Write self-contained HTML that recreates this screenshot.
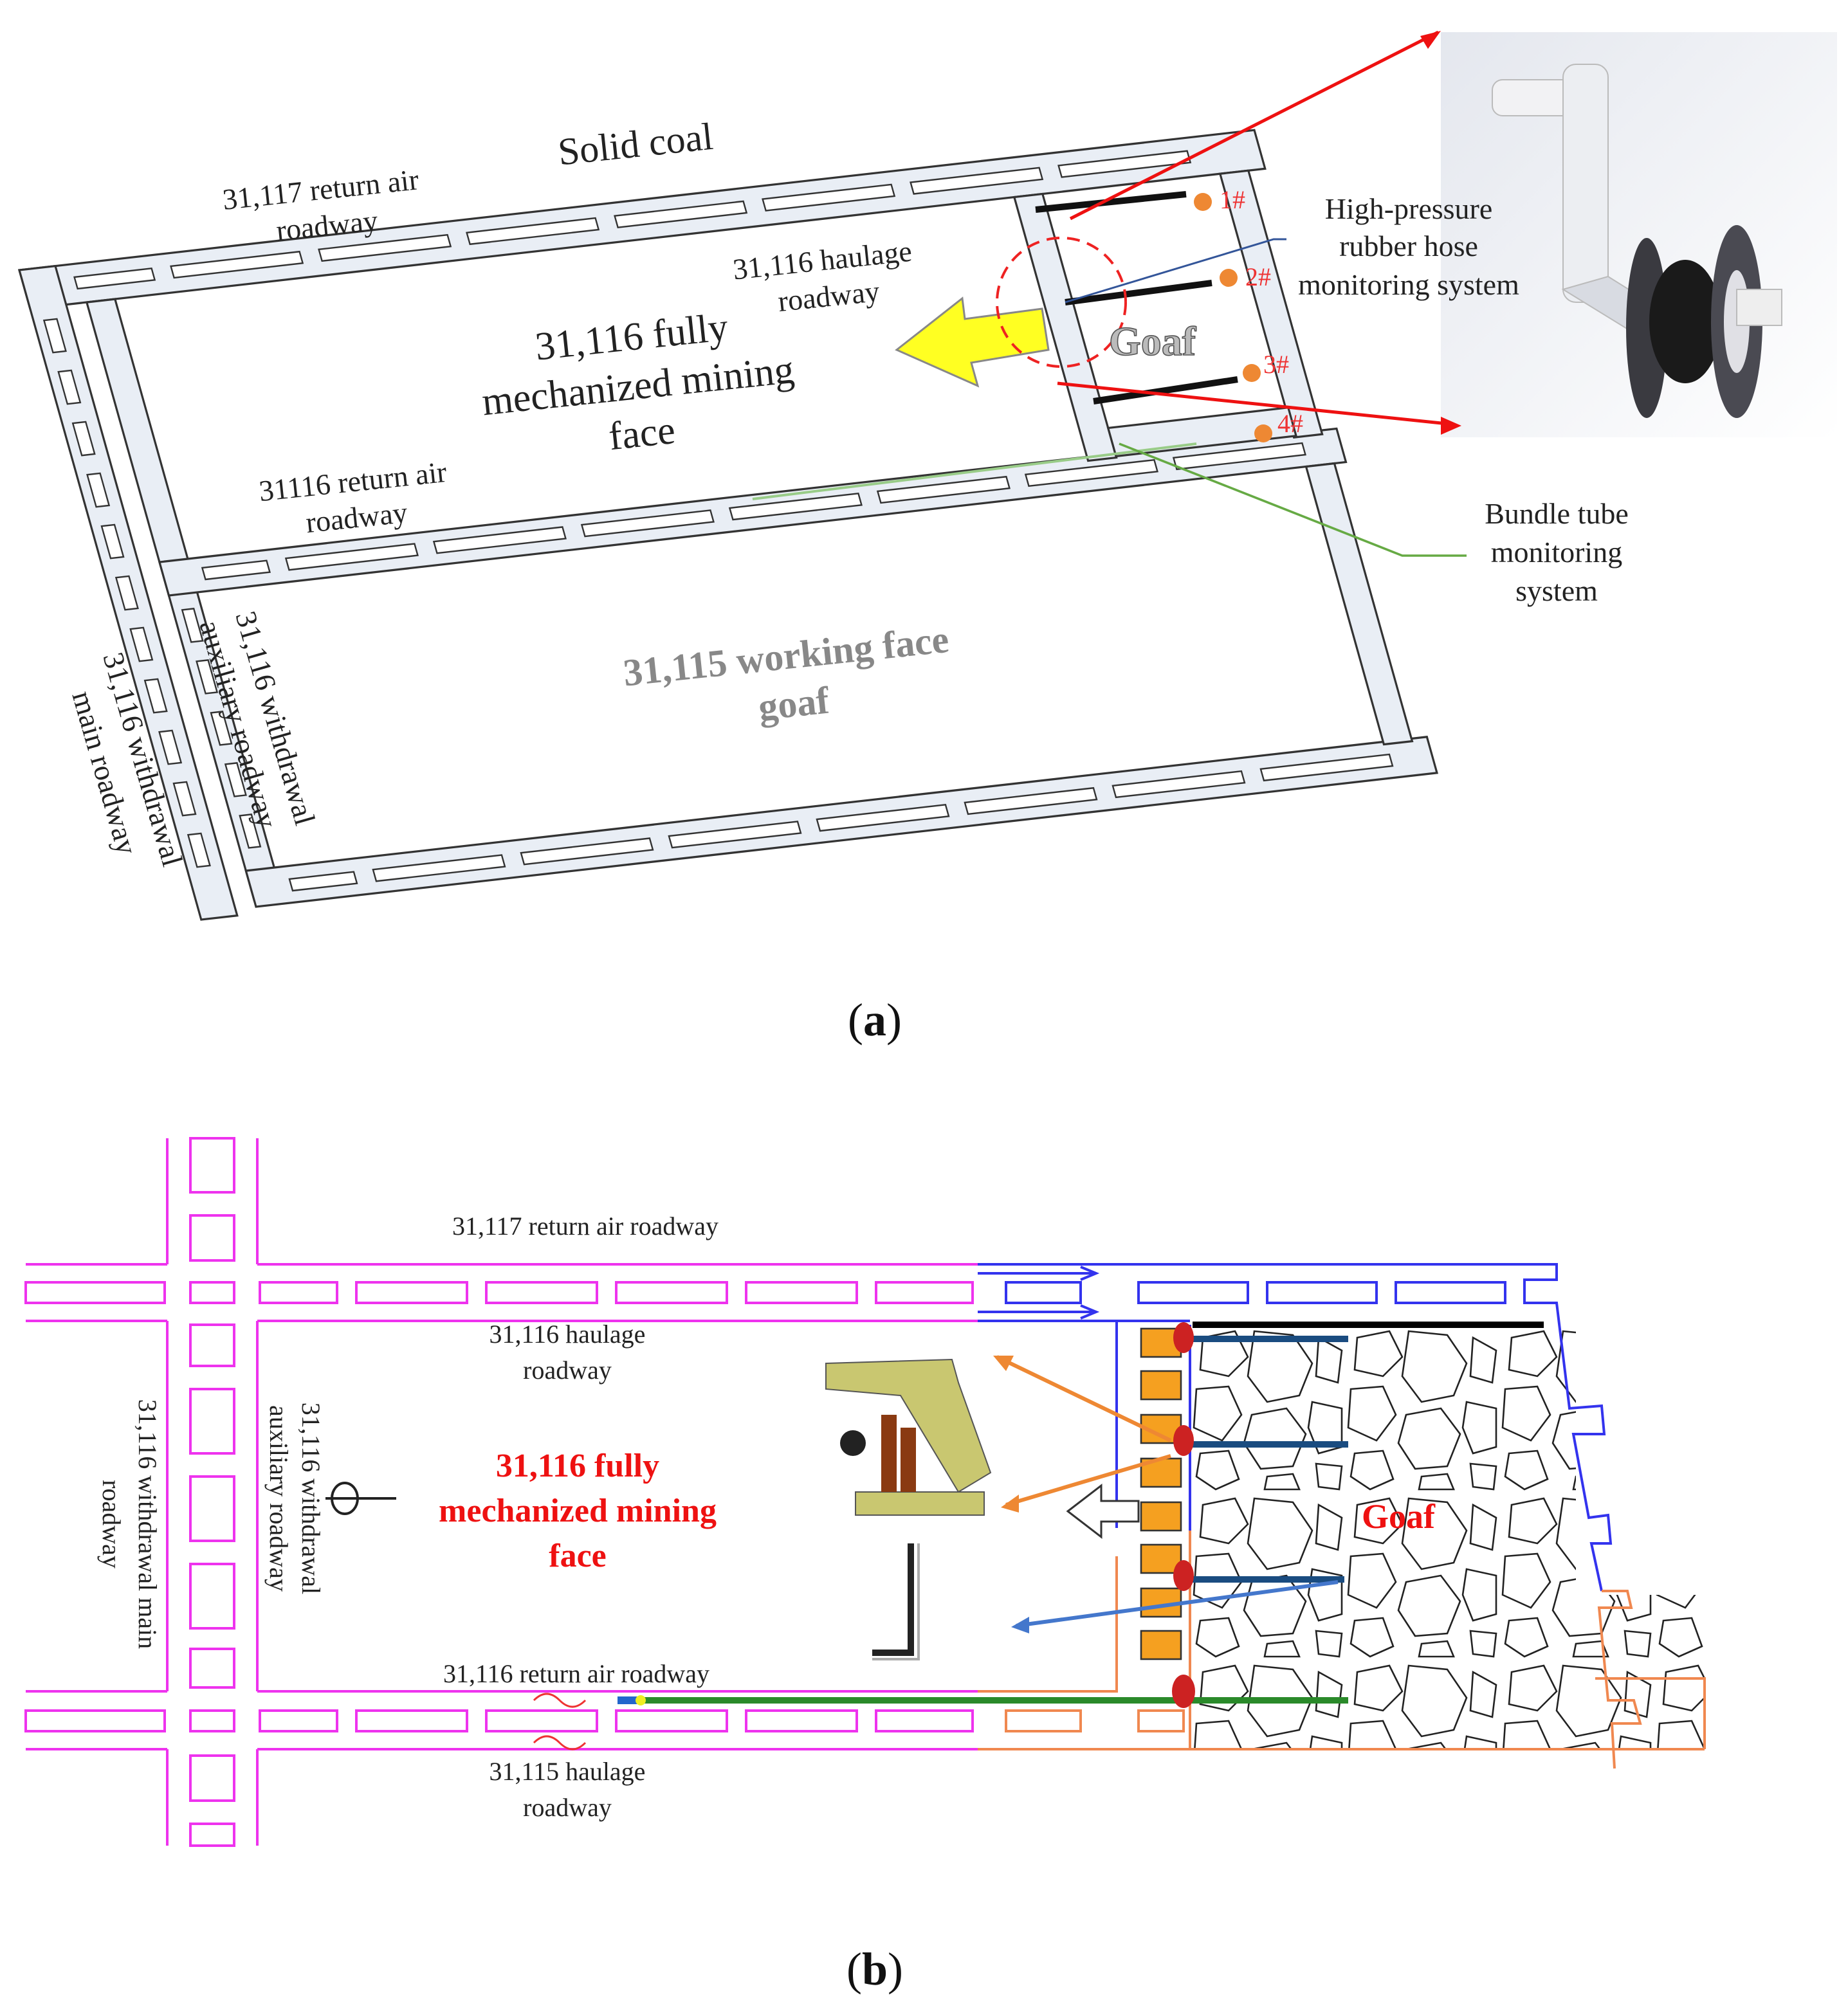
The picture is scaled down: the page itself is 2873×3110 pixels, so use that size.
<!DOCTYPE html>
<html><head><meta charset="utf-8"><style>
html,body{margin:0;padding:0;background:#fff}
svg{display:block}
text{font-family:"Liberation Serif",serif}
</style></head><body>
<svg width="2873" height="3110" viewBox="0 0 1436.5 1555" xmlns="http://www.w3.org/2000/svg">
<defs>
<linearGradient id="bg" x1="0" y1="0" x2="1" y2="1"><stop offset="0" stop-color="#e4e7ee"/><stop offset="1" stop-color="#ffffff"/></linearGradient>
<pattern id="rock" width="120" height="130" patternUnits="userSpaceOnUse" x="925" y="1030">
<g fill="none" stroke="#222" stroke-width="1.3">
<polygon points="10,10 35,5 45,25 30,40 8,35"/>
<polygon points="50,5 80,8 95,30 85,55 60,60 45,40"/>
<polygon points="100,10 118,20 115,45 98,40"/>
<polygon points="5,50 30,48 40,70 25,90 3,80"/>
<polygon points="48,70 75,65 90,85 80,110 55,112 42,92"/>
<polygon points="95,60 118,65 118,95 100,100 92,80"/>
<polygon points="8,100 30,98 38,120 20,128 5,118"/>
<polygon points="60,118 80,116 85,128 58,128"/>
<polygon points="98,108 118,110 116,128 100,126"/>
</g></pattern>
</defs>

<!-- ===== (a) ===== -->
<rect x="1120" y="25" width="308" height="315" fill="url(#bg)"/>
<rect x="1160" y="62" width="90" height="28" rx="8" fill="#f2f2f4" stroke="#bbb"/>
<rect x="1215" y="50" width="35" height="185" rx="10" fill="#eceef2" stroke="#bbb"/>
<path d="M1215 225 L1280 265 L1290 240 L1250 215 Z" fill="#d8dbe2" stroke="#bbb"/>
<ellipse cx="1280" cy="255" rx="16" ry="70" fill="#3a3a40"/>
<ellipse cx="1310" cy="250" rx="28" ry="48" fill="#1a1a1a"/>
<ellipse cx="1350" cy="250" rx="20" ry="75" fill="#4a4a52"/>
<ellipse cx="1350" cy="250" rx="10" ry="40" fill="#e0e0e5"/>
<rect x="1350" y="225" width="35" height="28" fill="#eee" stroke="#bbb"/>

<g transform="matrix(1,-0.1134,0.28,1,15,210)" fill="#e9eef5" stroke="#333" stroke-width="1.6">
  <rect x="0" y="0" width="960" height="30"/>
  <rect x="0" y="0" width="28" height="505"/>
  <rect x="44" y="30" width="22" height="465"/>
  <rect x="44" y="232" width="915" height="26"/>
  <rect x="44" y="472" width="918" height="28"/>
  <rect x="765" y="30" width="22" height="205"/>
  <rect x="925" y="30" width="22" height="205" />
  <rect x="928" y="258" width="22" height="216"/>
  <rect x="787" y="212" width="140" height="22"/>
  <g fill="#fff" stroke="#333" stroke-width="1.2">
    <rect x="40" y="10" width="60" height="9"/><rect x="115" y="10" width="100" height="9"/><rect x="230" y="10" width="100" height="9"/><rect x="345" y="10" width="100" height="9"/><rect x="460" y="10" width="100" height="9"/><rect x="575" y="10" width="100" height="9"/><rect x="690" y="10" width="100" height="9"/><rect x="805" y="10" width="100" height="9"/>
    <rect x="75" y="240" width="50" height="9"/><rect x="140" y="240" width="100" height="9"/><rect x="255" y="240" width="100" height="9"/><rect x="370" y="240" width="100" height="9"/><rect x="485" y="240" width="100" height="9"/><rect x="600" y="240" width="100" height="9"/><rect x="715" y="240" width="100" height="9"/><rect x="830" y="240" width="100" height="9"/>
    <rect x="75" y="482" width="50" height="9"/><rect x="140" y="482" width="100" height="9"/><rect x="255" y="482" width="100" height="9"/><rect x="370" y="482" width="100" height="9"/><rect x="485" y="482" width="100" height="9"/><rect x="600" y="482" width="100" height="9"/><rect x="715" y="482" width="100" height="9"/><rect x="830" y="482" width="100" height="9"/>
    <rect x="8" y="40" width="10" height="25"/><rect x="8" y="80" width="10" height="25"/><rect x="8" y="120" width="10" height="25"/><rect x="8" y="160" width="10" height="25"/><rect x="8" y="200" width="10" height="25"/><rect x="8" y="240" width="10" height="25"/><rect x="8" y="280" width="10" height="25"/><rect x="8" y="320" width="10" height="25"/><rect x="8" y="360" width="10" height="25"/><rect x="8" y="400" width="10" height="25"/><rect x="8" y="440" width="10" height="25"/>
    <rect x="51" y="270" width="9" height="25"/><rect x="51" y="310" width="9" height="25"/><rect x="51" y="350" width="9" height="25"/><rect x="51" y="390" width="9" height="25"/><rect x="51" y="430" width="9" height="25"/>
  </g>
</g>
<g stroke="#111" stroke-width="5">
<line x1="805" y1="163" x2="922" y2="151"/><line x1="828" y1="235" x2="942" y2="220"/><line x1="850" y1="312" x2="962" y2="295"/>
</g>
<g fill="#ee8833"><circle cx="935" cy="157" r="7"/><circle cx="955" cy="216" r="7"/><circle cx="973" cy="290" r="7"/><circle cx="982" cy="337" r="7"/></g>
<g fill="#e33" font-size="20"><text x="948" y="162">1#</text><text x="968" y="222">2#</text><text x="982" y="290">3#</text><text x="993" y="336">4#</text></g>
<polygon points="697,272 748,232 750,248 810,240 815,272 755,282 760,300" fill="#ffff22" stroke="#888" stroke-width="1.5"/>
<circle cx="825" cy="235" r="50" fill="none" stroke="#e22" stroke-width="2" stroke-dasharray="10,6"/>
<text x="862" y="276" font-size="32" font-weight="bold" fill="#bbb" stroke="#555" stroke-width="0.8">Goaf</text>
<line x1="832" y1="170" x2="1118" y2="25" stroke="#e11" stroke-width="2.5"/>
<polygon points="1120,24 1104,28 1110,38" fill="#e11"/>
<line x1="822" y1="298" x2="1130" y2="330" stroke="#e11" stroke-width="2.5"/>
<polygon points="1136,331 1120,324 1120,338" fill="#e11"/>
<polyline points="828,235 990,186 1000,186" fill="none" stroke="#335599" stroke-width="1.5"/>
<polyline points="585,388 930,345" fill="none" stroke="#99cc88" stroke-width="2"/>
<polyline points="870,345 1090,432 1140,432" fill="none" stroke="#66aa44" stroke-width="1.8"/>
<g font-size="23" fill="#222" text-anchor="middle">
<text x="1095" y="170">High-pressure</text><text x="1095" y="199">rubber hose</text><text x="1095" y="229">monitoring system</text>
<text x="1210" y="407">Bundle tube</text><text x="1210" y="437">monitoring</text><text x="1210" y="467">system</text>
</g>
<g fill="#222" font-size="23" text-anchor="middle">
<text x="495" y="122" font-size="30" transform="rotate(-6 495 122)">Solid coal</text>
<text x="250" y="155" transform="rotate(-6 250 155)">31,117 return air</text><text x="255" y="183" transform="rotate(-6 255 183)">roadway</text>
<text x="640" y="210" transform="rotate(-6 640 210)">31,116 haulage</text><text x="645" y="238" transform="rotate(-6 645 238)">roadway</text>
<text x="275" y="382" transform="rotate(-6 275 382)">31116 return air</text><text x="278" y="410" transform="rotate(-6 278 410)">roadway</text>
<g font-size="31"><text x="492" y="272" transform="rotate(-6 492 272)">31,116 fully</text><text x="497" y="310" transform="rotate(-6 497 310)">mechanized mining</text><text x="500" y="347" transform="rotate(-6 500 347)">face</text></g>
<g font-size="30" font-weight="bold" fill="#888"><text x="612" y="520" transform="rotate(-6 612 520)">31,115 working face</text><text x="618" y="557" transform="rotate(-6 618 557)">goaf</text></g>
</g>
<g fill="#222" font-size="23">
<text transform="translate(183,478) rotate(74)">31,116 withdrawal</text>
<text transform="translate(155,485) rotate(74)">auxiliary roadway</text>
<text transform="translate(80,510) rotate(74)">31,116 withdrawal</text>
<text transform="translate(56,540) rotate(74)">main roadway</text>
</g>
<text x="680" y="805" font-size="36" text-anchor="middle" fill="#111">(<tspan font-weight="bold">a</tspan>)</text>

<!-- ===== (b) ===== -->
<g fill="none" stroke="#ee33ee" stroke-width="2">
<line x1="130" y1="885" x2="130" y2="983"/><line x1="200" y1="885" x2="200" y2="983"/>
<line x1="130" y1="1027" x2="130" y2="1315"/><line x1="200" y1="1027" x2="200" y2="1315"/>
<line x1="130" y1="1360" x2="130" y2="1435"/><line x1="200" y1="1360" x2="200" y2="1435"/>
<line x1="20" y1="983" x2="130" y2="983"/><line x1="200" y1="983" x2="760" y2="983"/>
<line x1="20" y1="1027" x2="130" y2="1027"/><line x1="200" y1="1027" x2="760" y2="1027"/>
<line x1="20" y1="1315" x2="130" y2="1315"/><line x1="200" y1="1315" x2="760" y2="1315"/>
<line x1="20" y1="1360" x2="130" y2="1360"/><line x1="200" y1="1360" x2="760" y2="1360"/>
<rect x="148" y="885" width="34" height="42"/><rect x="148" y="945" width="34" height="35"/><rect x="148" y="997" width="34" height="16"/>
<rect x="148" y="1030" width="34" height="32"/><rect x="148" y="1080" width="34" height="50"/><rect x="148" y="1148" width="34" height="50"/><rect x="148" y="1216" width="34" height="50"/><rect x="148" y="1282" width="34" height="30"/>
<rect x="148" y="1330" width="34" height="16"/><rect x="148" y="1365" width="34" height="35"/><rect x="148" y="1418" width="34" height="17"/>
<rect x="20" y="997" width="108" height="16"/><rect x="20" y="1330" width="108" height="16"/>
<rect x="202" y="997" width="60" height="16"/><rect x="277" y="997" width="86" height="16"/><rect x="378" y="997" width="86" height="16"/><rect x="479" y="997" width="86" height="16"/><rect x="580" y="997" width="86" height="16"/><rect x="681" y="997" width="75" height="16"/>
<rect x="202" y="1330" width="60" height="16"/><rect x="277" y="1330" width="86" height="16"/><rect x="378" y="1330" width="86" height="16"/><rect x="479" y="1330" width="86" height="16"/><rect x="580" y="1330" width="86" height="16"/><rect x="681" y="1330" width="75" height="16"/>
</g>
<rect x="925" y="1030" width="300" height="330" fill="url(#rock)"/>
<rect x="1225" y="1240" width="100" height="120" fill="url(#rock)"/>
<g fill="none" stroke="#3333ee" stroke-width="2">
<polyline points="760,983 1210,983 1210,995 1185,995 1185,1013 1210,1013 1220,1095 1245,1093 1247,1115 1223,1115 1235,1180 1250,1178 1252,1200 1237,1200 1245,1237"/>
<polyline points="760,1027 868,1027 868,1188"/><line x1="868" y1="1027" x2="925" y2="1027"/>
<rect x="782" y="997" width="58" height="16"/><rect x="885" y="997" width="85" height="16"/><rect x="985" y="997" width="85" height="16"/><rect x="1085" y="997" width="85" height="16"/>
<line x1="925" y1="1030" x2="925" y2="1190"/>
<path d="M760 990 H845 L852 990 M840 985 L852 990 L840 995 M760 1020 H852 M840 1015 L852 1020 L840 1025"/>
</g>
<g fill="none" stroke="#f08850" stroke-width="2">
<polyline points="868,1210 868,1315 760,1315"/><line x1="760" y1="1360" x2="1325" y2="1360"/>
<polyline points="1245,1237 1265,1237 1268,1250 1243,1250 1250,1322 1270,1322 1275,1340 1253,1340 1255,1375"/>
<polyline points="1240,1305 1325,1305 1325,1360"/>
<line x1="925" y1="1190" x2="925" y2="1360"/>
<rect x="782" y="1330" width="58" height="16"/><rect x="885" y="1330" width="35" height="16"/>
</g>
<g fill="#f5a020" stroke="#333" stroke-width="1.3">
<rect x="887" y="1033" width="31" height="22"/><rect x="887" y="1066" width="31" height="22"/><rect x="887" y="1100" width="31" height="22"/><rect x="887" y="1134" width="31" height="22"/><rect x="887" y="1168" width="31" height="22"/><rect x="887" y="1201" width="31" height="22"/><rect x="887" y="1235" width="31" height="22"/><rect x="887" y="1268" width="31" height="22"/>
</g>
<line x1="927" y1="1030" x2="1200" y2="1030" stroke="#000" stroke-width="5"/>
<g stroke="#1a4c80" stroke-width="5"><line x1="927" y1="1041" x2="1048" y2="1041"/><line x1="927" y1="1123" x2="1048" y2="1123"/><line x1="927" y1="1228" x2="1045" y2="1228"/></g>
<line x1="490" y1="1322" x2="1048" y2="1322" stroke="#2a8a2a" stroke-width="5"/>
<g fill="#cc2222"><ellipse cx="920" cy="1040" rx="8" ry="12"/><ellipse cx="920" cy="1120" rx="8" ry="12"/><ellipse cx="920" cy="1225" rx="8" ry="12"/><ellipse cx="920" cy="1315" rx="9" ry="13"/></g>
<polygon points="830,1175 856,1155 856,1167 885,1167 885,1183 856,1183 856,1195" fill="#fff" stroke="#333" stroke-width="1.5"/>
<g stroke-width="3"><line x1="910" y1="1120" x2="775" y2="1055" stroke="#ee8833"/><line x1="910" y1="1132" x2="782" y2="1170" stroke="#ee8833"/><line x1="1040" y1="1230" x2="790" y2="1264" stroke="#4477cc"/></g>
<polygon points="772,1054 788,1054 782,1066" fill="#ee8833"/><polygon points="778,1172 792,1162 792,1176" fill="#ee8833"/><polygon points="786,1265 800,1257 800,1270" fill="#4477cc"/>
<path d="M642 1060 L740 1057 L745 1075 L770 1145 L745 1160 L700 1085 L642 1080 Z" fill="#c9c770" stroke="#555"/>
<rect x="665" y="1160" width="100" height="18" fill="#c9c770" stroke="#555"/>
<rect x="685" y="1100" width="12" height="60" fill="#8a3a12"/><rect x="700" y="1110" width="12" height="50" fill="#8a3a12"/>
<circle cx="663" cy="1122" r="10" fill="#222"/>
<path d="M708 1200 V1285 H678" fill="none" stroke="#222" stroke-width="5"/>
<path d="M714 1200 V1290 H678" fill="none" stroke="#aaa" stroke-width="2"/>
<path d="M480 1322 H498" stroke="#2266cc" stroke-width="6"/><circle cx="498" cy="1322" r="4" fill="#ee2"/>
<path d="M415 1322 q10 -10 20 0 q10 10 20 0 M415 1355 q10 -10 20 0 q10 10 20 0" fill="none" stroke="#ee3333" stroke-width="1.5"/>
<g transform="translate(268,1165)"><ellipse cx="0" cy="0" rx="10" ry="12" fill="none" stroke="#222" stroke-width="2"/><line x1="-15" y1="0" x2="40" y2="0" stroke="#222" stroke-width="2"/></g>
<g font-size="20" fill="#222" text-anchor="middle">
<text x="455" y="960">31,117 return air roadway</text>
<text x="441" y="1044">31,116 haulage</text><text x="441" y="1072">roadway</text>
<text x="448" y="1308">31,116 return air roadway</text>
<text x="441" y="1384">31,115 haulage</text><text x="441" y="1412">roadway</text>
<text transform="translate(235,1165) rotate(90)">31,116 withdrawal</text>
<text transform="translate(210,1165) rotate(90)">auxiliary roadway</text>
<text transform="translate(108,1185) rotate(90)">31,116 withdrawal main</text>
<text transform="translate(80,1185) rotate(90)">roadway</text>
</g>
<g font-size="26" font-weight="bold" fill="#ee1111" text-anchor="middle">
<text x="449" y="1148">31,116 fully</text><text x="449" y="1183">mechanized mining</text><text x="449" y="1218">face</text>
<text x="1087" y="1188" font-size="27">Goaf</text>
</g>
<text x="680" y="1543" font-size="36" text-anchor="middle" fill="#111">(<tspan font-weight="bold">b</tspan>)</text>
</svg>
</body></html>
